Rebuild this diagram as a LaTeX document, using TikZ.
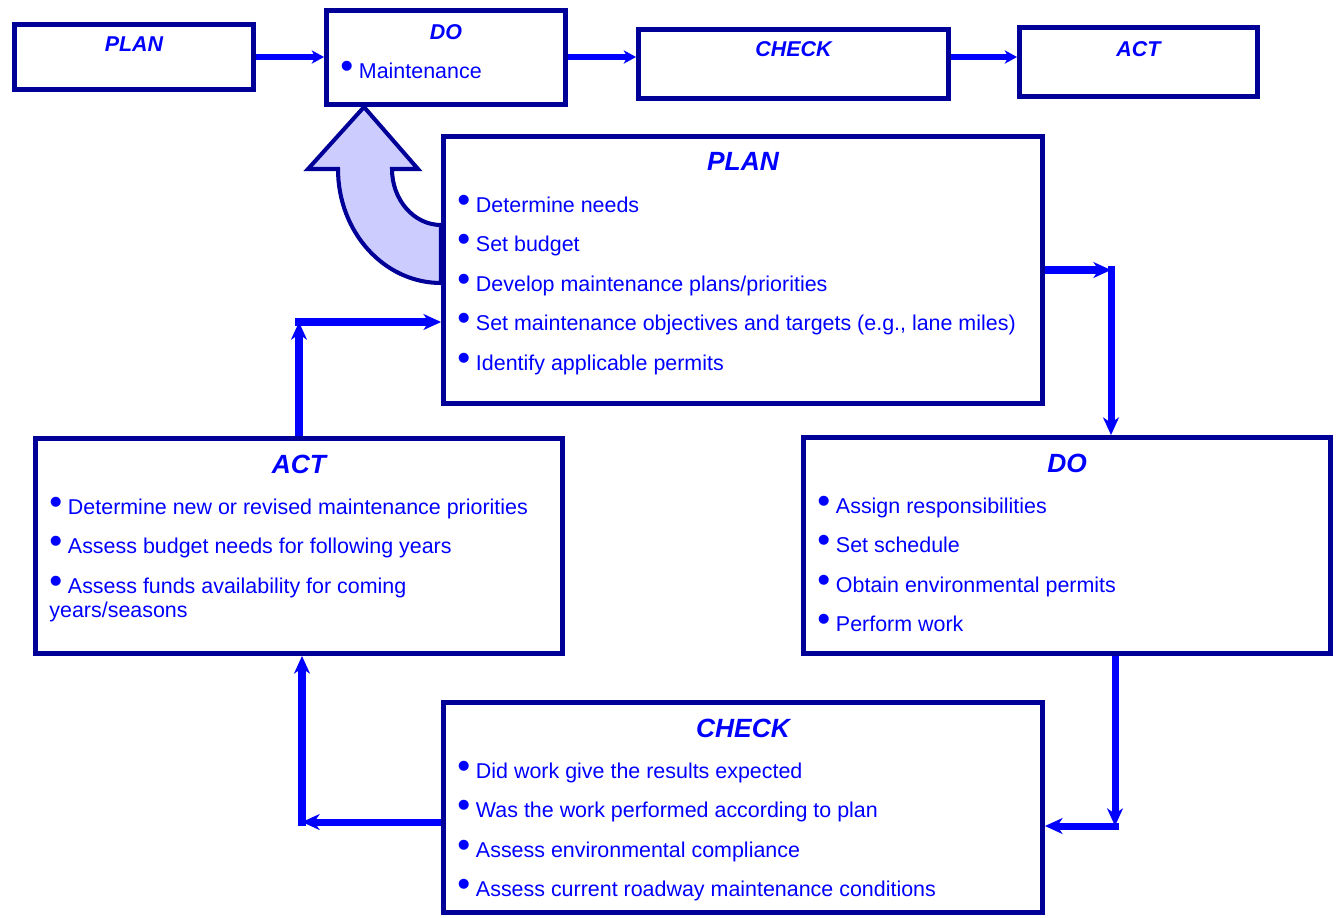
\documentclass[tikz,border=0pt]{standalone}
\usepackage{fontspec}
\setmainfont{Liberation Sans}
\usepackage{tikz}
\usetikzlibrary{arrows.meta,positioning}
\definecolor{boxblue}{RGB}{0,0,153}
\definecolor{txtblue}{RGB}{0,0,255}
\definecolor{lav}{RGB}{204,204,255}
\newcommand{\bul}{\raisebox{0pt}{\fontsize{21pt}{0pt}\selectfont•}\hspace{3.2pt}}
\newcommand{\nxt}{\\[8.8pt]}
\tikzset{%
  box/.style      = {shape=rectangle, draw=boxblue, line width=2.8pt},%
  ttl/.style      = {font=\fontsize{12.2pt}{14pt}\selectfont\bfseries\itshape,%
                     text=txtblue, inner sep=0pt},%
  bigttl/.style   = {ttl, font=\fontsize{15pt}{18pt}\selectfont\bfseries\itshape},%
  items/.style    = {align=left, anchor=north west, inner sep=0pt, text=txtblue,%
                     font=\fontsize{12.2pt}{13.6pt}\selectfont},%
  flow/.style     = {draw=txtblue, line width=4pt,%
                     -{Stealth[length=10pt,width=9pt,inset=3pt]}},%
  topflow/.style  = {draw=txtblue, line width=3.4pt,%
                     -{Stealth[length=7pt,width=7.5pt,inset=2pt]}},%
  bigarrow/.style = {draw=boxblue, line width=2.3pt, fill=lav, line join=miter}%
}

\begin{document}
\begin{tikzpicture}[x=0.02cm, y=-0.02cm]
  \useasboundingbox (0,0) rectangle (1337,917);
  % curved arrow back to the maintenance step
  \filldraw[bigarrow] (441,283) .. controls (384,283) and (338,232) .. (338,169)
    -- (308,169) -- (364,107) -- (418,169) -- (392,169)
    .. controls (392,200) and (414,225) .. (441,225) -- cycle;

  % top row
  \node[box, minimum width=4.78cm, minimum height=1.30cm] (splan) at (134,57) {};
  \node[box, minimum width=4.78cm, minimum height=1.88cm] (sdo) at (446,57.5) {};
  \node[box, minimum width=6.20cm, minimum height=1.38cm] (scheck) at (793.5,64) {};
  \node[box, minimum width=4.76cm, minimum height=1.38cm] (sact) at (1138.5,62) {};
  \node[ttl] (splantitle) at ([yshift=-0.44cm]splan.north) {PLAN};
  \node[ttl] (sdotitle) at ([yshift=-0.48cm]sdo.north) {DO};
  \node[items] (sdolist) at ([xshift=0.32cm, yshift=-1.06cm]sdo.north west) {\bul Maintenance};
  \node[ttl] (schecktitle) at ([yshift=-0.44cm]scheck.north) {CHECK};
  \node[ttl] (sacttitle) at ([yshift=-0.48cm]sact.north) {ACT};

  % cycle
  \node[box, minimum width=11.98cm, minimum height=5.34cm] (plan) at (743,270) {};
  \node[box, minimum width=10.54cm, minimum height=4.32cm] (do) at (1067,545.5) {};
  \node[box, minimum width=11.98cm, minimum height=4.20cm] (check) at (743,807.5) {};
  \node[box, minimum width=10.54cm, minimum height=4.30cm] (act) at (299,546) {};

  \node[bigttl] (plantitle) at ([yshift=-0.54cm]plan.north) {PLAN};
  \node[items] (planlist) at ([xshift=0.32cm, yshift=-1.22cm]plan.north west)
    {\bul Determine needs\nxt
     \bul Set budget\nxt
     \bul Develop maintenance plans/priorities\nxt
     \bul Set maintenance objectives and targets (e.g., lane miles)\nxt
     \bul Identify applicable permits};
  \node[bigttl] (dotitle) at ([yshift=-0.56cm]do.north) {DO};
  \node[items] (dolist) at ([xshift=0.32cm, yshift=-1.22cm]do.north west)
    {\bul Assign responsibilities\nxt
     \bul Set schedule\nxt
     \bul Obtain environmental permits\nxt
     \bul Perform work};
  \node[bigttl] (checktitle) at ([yshift=-0.56cm]check.north) {CHECK};
  \node[items] (checklist) at ([xshift=0.32cm, yshift=-1.22cm]check.north west)
    {\bul Did work give the results expected\nxt
     \bul Was the work performed according to plan\nxt
     \bul Assess environmental compliance\nxt
     \bul Assess current roadway maintenance conditions};
  \node[bigttl] (acttitle) at ([yshift=-0.56cm]act.north) {ACT};
  \node[items] (actlist) at ([xshift=0.32cm, yshift=-1.22cm]act.north west)
    {\bul Determine new or revised maintenance priorities\nxt
     \bul Assess budget needs for following years\nxt
     \bul Assess funds availability for coming\\
     years/seasons};

  % connectors
  \draw[topflow] (splan.east) -- (splan.east -| sdo.west);
  \draw[topflow] (sdo.east |- splan.east) -- (splan.east -| scheck.west);
  \draw[topflow] (scheck.east |- splan.east) -- (splan.east -| sact.west);

  \coordinate (c1) at (1111,270);
  \coordinate (c2) at (1115,826);
  \coordinate (c3) at (302,822);
  \coordinate (c4) at (299,322);
  \draw[flow] (plan.east) -- (c1);
  \draw[flow, shorten <=-2pt] (c1) -- (c1 |- do.north);
  \draw[flow] (do.south -| c2) -- (c2);
  \draw[flow, shorten <=-2pt] (c2) -- (c2 -| check.east);
  \draw[flow] (check.west |- c3) -- (c3);
  \draw[flow, shorten <=-2pt] (c3) -- (c3 |- act.south);
  \draw[flow] (act.north -| c4) -- (c4);
  \draw[flow, shorten <=-2pt] (c4) -- (c4 -| plan.west);
\end{tikzpicture}
\end{document}
